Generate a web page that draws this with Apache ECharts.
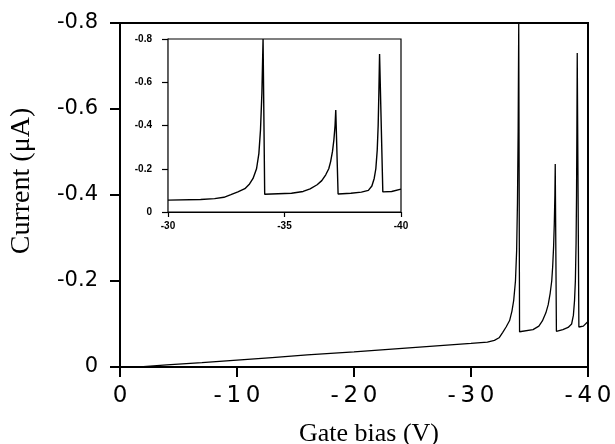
<!DOCTYPE html>
<html lang="en">
<head>
    <meta charset="UTF-8">
    <title>Current vs gate bias</title>
    <script src="https://cdn.jsdelivr.net/npm/echarts@6/dist/echarts.min.js"></script>
    <style>
        html, body { margin: 0; padding: 0; background: #fff; }
    </style>
</head>
<body>
    <div id="main" style="width: 615px;height:444px;"></div>
    <script>
        // gate bias (V) and current (uA)
        var gateBias = [0, -2, -4, -7, -10, -13, -16, -20, -25, -30, -31.4, -32.0, -32.4, -32.7, -33.0, -33.3,
            -33.5, -33.65, -33.8, -33.9, -33.97, -34.03, -34.08, -34.15,
            -35.3, -35.8, -36.1, -36.4, -36.6, -36.77, -36.9, -36.98, -37.06, -37.12, -37.17, -37.2, -37.3,
            -37.85, -38.3, -38.6, -38.75, -38.85, -38.92, -38.98, -39.02, -39.05, -39.08, -39.22, -39.6, -40];
        var current = [0, -0.001, -0.005, -0.010, -0.016, -0.022, -0.028, -0.035, -0.045, -0.055, -0.058, -0.062,
            -0.068, -0.080, -0.093, -0.108, -0.130, -0.155, -0.200, -0.270, -0.380, -0.550, -0.800, -0.082,
            -0.087, -0.095, -0.107, -0.126, -0.145, -0.172, -0.200, -0.233, -0.280, -0.334, -0.400, -0.472, -0.083,
            -0.087, -0.092, -0.100, -0.120, -0.155, -0.200, -0.287, -0.400, -0.550, -0.730, -0.093, -0.095, -0.106];

        var insetFrom = -30; // inset shows only the -30..-40 V part

        var mainData = [];
        var insetData = [];
        for (var i = 0; i < gateBias.length; i++) {
            mainData.push([gateBias[i], current[i]]);
            if (gateBias[i] <= insetFrom) insetData.push([gateBias[i], current[i]]);
        }

        var myChart = echarts.init(document.getElementById('main'));

        var option = {
            backgroundColor: '#fff',
            animation: false,
            grid: [
                { left: 120, top: 23, right: 27, bottom: 77, outerBoundsMode: 'none', containLabel: false,
                  show: true, borderColor: '#000', borderWidth: 2 },
                { left: 168, top: 39, width: 233, height: 173, outerBoundsMode: 'none', containLabel: false,
                  show: true, borderColor: '#000', borderWidth: 1.2, backgroundColor: '#fff', z: 5 }
            ],
            xAxis: [
                {
                    gridIndex: 0,
                    type: 'value',
                    min: -40, max: 0, interval: 10,
                    inverse: true,
                    name: 'Gate bias (V)',
                    nameLocation: 'middle',
                    nameGap: 54,
                    nameTextStyle: { fontFamily: 'Liberation Serif', fontSize: 26, color: '#000', padding: [0, 0, 0, 30] },
                    axisLine: { lineStyle: { color: '#000', width: 2 } },
                    axisTick: { length: 10, lineStyle: { color: '#000', width: 2 } },
                    axisLabel: {
                        margin: 18, color: '#000', fontFamily: 'DejaVu Sans', fontSize: 23,
                        formatter: function (v) { return String(v).split('').join('\u2009'); }
                    },
                    splitLine: { show: false }
                },
                {
                    gridIndex: 1,
                    type: 'value',
                    min: -40, max: -30, interval: 5,
                    inverse: true,
                    axisLine: { lineStyle: { color: '#000', width: 1.2 } },
                    axisTick: { length: 5, lineStyle: { color: '#000', width: 1.2 } },
                    axisLabel: { margin: 9, color: '#000', fontFamily: 'Liberation Sans', fontWeight: 'bold', fontSize: 10 },
                    splitLine: { show: false }
                }
            ],
            yAxis: [
                {
                    gridIndex: 0,
                    type: 'value',
                    min: -0.8, max: 0, interval: 0.2,
                    inverse: true,
                    name: 'Current (\u03bcA)',
                    nameLocation: 'middle',
                    nameGap: 84,
                    nameTextStyle: { fontFamily: 'Liberation Serif', fontSize: 28, color: '#000', padding: [0, 0, 0, 28] },
                    axisLine: { lineStyle: { color: '#000', width: 2 } },
                    axisTick: { length: 10, lineStyle: { color: '#000', width: 2 } },
                    axisLabel: { margin: 22, color: '#000', fontFamily: 'DejaVu Sans', fontSize: 21 },
                    splitLine: { show: false }
                },
                {
                    gridIndex: 1,
                    type: 'value',
                    min: -0.8, max: 0, interval: 0.2,
                    inverse: true,
                    axisLine: { lineStyle: { color: '#000', width: 1.2 } },
                    axisTick: { length: 6, lineStyle: { color: '#000', width: 1.2 } },
                    axisLabel: { margin: 16, color: '#000', fontFamily: 'Liberation Sans', fontWeight: 'bold', fontSize: 10 },
                    splitLine: { show: false }
                }
            ],
            series: [
                {
                    type: 'line',
                    xAxisIndex: 0, yAxisIndex: 0,
                    data: mainData,
                    symbol: 'none',
                    lineStyle: { color: '#000', width: 1.3 }
                },
                {
                    type: 'line',
                    xAxisIndex: 1, yAxisIndex: 1,
                    data: insetData,
                    symbol: 'none',
                    z: 6,
                    lineStyle: { color: '#000', width: 1.4 }
                }
            ]
        };

        myChart.setOption(option);
    </script>
</body>
</html>
